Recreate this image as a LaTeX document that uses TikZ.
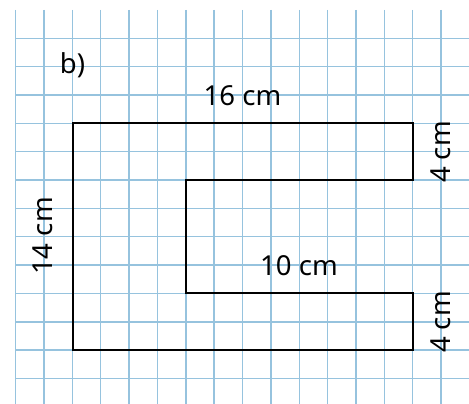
\documentclass[tikz,border=0pt]{standalone}
\usepackage{fontspec}
\setmainfont{Noto Sans}
\definecolor{gridblue}{RGB}{150,195,222}
\begin{document}
\begin{tikzpicture}[x=1pt,y=-1pt,
  gridline/.style={draw=gridblue,line width=1.4pt},
  outline/.style={draw=black,line width=2.2pt,line join=miter},
  lbl/.style={font=\fontsize{27.5}{32}\selectfont,inner sep=0pt}]
\useasboundingbox (0,0) rectangle (469,404);
\fill[white] (0,0) rectangle (469,404);
% grid
\foreach \i in {0,...,16} {
  \draw[gridline] ({15.7+28.35*\i},10) -- ({15.7+28.35*\i},404);
}
\foreach \j in {0,...,12} {
  \draw[gridline] (15.7,{38.3+28.35*\j}) -- (469,{38.3+28.35*\j});
}
% shape
\coordinate (p1) at (72.7,123.3);
\coordinate (p2) at (412.7,123.3);
\coordinate (p3) at (412.7,180);
\coordinate (p4) at (185.7,180);
\coordinate (p5) at (185.7,293.3);
\coordinate (p6) at (412.7,293.3);
\coordinate (p7) at (412.7,350);
\coordinate (p8) at (72.7,350);
\draw[outline] (p1) -- (p2) -- (p3) -- (p4) -- (p5) -- (p6) -- (p7) -- (p8) -- cycle;
% labels
\node[lbl] (b) at (72.5,65) {b)};
\node[lbl] (l16) at (242.5,96) {16 cm};
\node[lbl] (l10) at (299,266) {10 cm};
\node[lbl,rotate=90] (l4a) at (440.5,152) {4 cm};
\node[lbl,rotate=90] (l4b) at (440.5,322) {4 cm};
\node[lbl,rotate=90] (l14) at (43,236) {14 cm};
\end{tikzpicture}
\end{document}
